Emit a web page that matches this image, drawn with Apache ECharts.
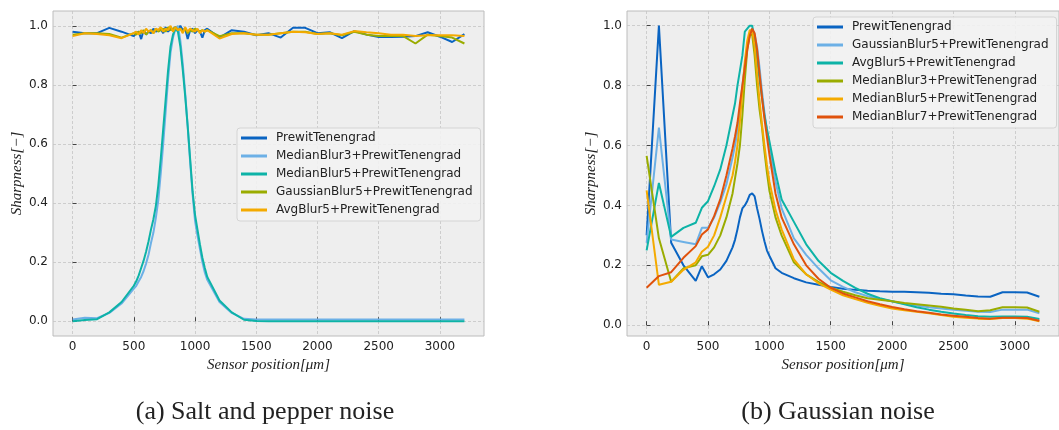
<!DOCTYPE html>
<html><head><meta charset="utf-8">
<script src="https://cdn.jsdelivr.net/npm/echarts@6/dist/echarts.min.js"></script>
<style>html,body{margin:0;padding:0;background:#fff}#c{width:1059px;height:430px}</style>
</head><body><div id="c"></div>
<script>
// ---------- tick labels ----------
const xTicks = [0, 500, 1000, 1500, 2000, 2500, 3000];
const yTicks = [0, 0.2, 0.4, 0.6, 0.8, 1.0];

// ---------- (a) Salt and pepper noise ----------
const namesA = ["PrewitTenengrad", "MedianBlur3+PrewitTenengrad", "MedianBlur5+PrewitTenengrad", "GaussianBlur5+PrewitTenengrad", "AvgBlur5+PrewitTenengrad"];
const xA = [0,100,200,300,400,500,520,540,560,580,600,620,640,660,680,700,720,740,760,780,800,820,840,860,880,900,920,940,960,980,1000,1020,1040,1060,1080,1100,1200,1300,1400,1500,1600,1700,1800,1900,2000,2100,2200,2300,2400,2500,2600,2700,2800,2900,3000,3100,3200];
const aPrewit = [0.98,0.975,0.975,0.993,0.98,
  0.965,0.975,0.98,0.955,0.985,0.97,0.98,0.975,0.99,0.98,0.985,0.99,0.975,0.995,0.98,0.99,0.985,0.995,0.99,1.0,0.985,0.99,0.955,0.985,0.99,0.975,0.985,0.98,0.96,0.985,0.99,
  0.96,0.985,0.98,0.968,0.975,0.96,0.993,0.993,0.975,0.978,0.958,0.982,0.97,0.962,0.962,0.963,0.965,0.978,0.963,0.945,0.972];
const aMedian3 = [0.006,0.012,0.01,0.028,0.06,
  0.11,0.12,0.135,0.15,0.17,0.195,0.225,0.265,0.3,0.35,0.41,0.5,0.6,0.71,0.82,0.91,0.96,0.99,1.0,0.95,0.87,0.77,0.66,0.54,0.43,0.34,0.29,0.245,0.2,0.165,0.14,
  0.065,0.028,0.008,0.006,0.006,0.006,0.006,0.006,0.006,0.006,0.006,0.006,0.006,0.006,0.006,0.006,0.006,0.006,0.006,0.006,0.006];
const aMedian5 = [0.0,0.004,0.007,0.03,0.065,
  0.12,0.135,0.155,0.18,0.205,0.235,0.27,0.31,0.345,0.39,0.46,0.55,0.65,0.75,0.85,0.93,0.97,0.99,0.98,0.93,0.85,0.76,0.66,0.55,0.44,0.36,0.31,0.26,0.215,0.18,0.15,
  0.07,0.03,0.005,0.001,0,0,0,0,0,0,0,0,0,0,0,0,0,0,0,0,0];
const aGauss5 = [0.97,0.975,0.975,0.972,0.96,
  0.975,0.97,0.98,0.975,0.985,0.97,0.98,0.985,0.975,0.99,0.98,0.985,0.99,0.98,0.995,0.985,0.99,0.995,0.985,0.99,0.98,0.99,0.975,0.985,0.98,0.99,0.985,0.98,0.985,0.98,0.985,
  0.965,0.975,0.975,0.97,0.97,0.975,0.98,0.98,0.972,0.975,0.968,0.98,0.97,0.965,0.965,0.965,0.94,0.97,0.965,0.96,0.94];
const aAvg5 = [0.965,0.975,0.972,0.968,0.958,
  0.975,0.98,0.97,0.985,0.975,0.99,0.98,0.985,0.975,0.99,0.985,0.995,0.98,0.99,0.985,1.0,0.98,0.995,0.985,0.99,0.975,0.995,0.98,0.99,0.985,0.98,0.99,0.975,0.985,0.98,0.985,
  0.957,0.972,0.975,0.97,0.97,0.975,0.98,0.978,0.972,0.975,0.97,0.982,0.978,0.975,0.97,0.97,0.965,0.968,0.968,0.968,0.965];
const seriesA = [aPrewit, aMedian3, aMedian5, aGauss5, aAvg5];

// ---------- (b) Gaussian noise ----------
const namesB = ["PrewitTenengrad", "GaussianBlur5+PrewitTenengrad", "AvgBlur5+PrewitTenengrad", "MedianBlur3+PrewitTenengrad", "MedianBlur5+PrewitTenengrad", "MedianBlur7+PrewitTenengrad"];
const xB = [0,100,200,300,400,450,500,550,600,650,700,720,740,760,780,800,820,840,860,880,900,920,940,960,980,1000,1050,1100,1200,1300,1400,1500,1600,1700,1800,1900,2000,2100,2200,2300,2400,2500,2600,2700,2800,2900,3000,3100,3200];
const bPrewit = [0.30,1.0,0.275,0.2,0.148,
  0.197,0.16,0.17,0.186,0.215,0.26,
  0.285,0.32,0.36,0.39,0.40,0.415,0.435,0.44,0.43,0.39,0.355,0.315,0.28,0.25,0.232,
  0.19,0.175,
  0.157,0.143,0.135,0.128,0.122,0.118,0.115,0.113,0.112,0.112,0.11,0.108,0.105,0.103,0.099,0.096,0.095,0.11,0.11,0.109,0.095];
const bGauss5 = [0.275,0.66,0.286,0.278,0.27,
  0.325,0.325,0.36,0.41,0.47,0.56,
  0.6,0.65,0.72,0.8,0.87,0.93,0.97,0.99,0.97,0.93,0.86,0.78,0.71,0.65,0.59,
  0.48,0.39,
  0.29,0.235,0.19,0.15,0.128,0.11,0.097,0.088,0.08,0.072,0.066,0.06,0.056,0.052,0.048,0.045,0.044,0.052,0.052,0.052,0.04];
const bAvg5 = [0.25,0.475,0.295,0.325,0.342,
  0.392,0.414,0.464,0.52,0.6,0.7,
  0.74,0.8,0.85,0.9,0.98,0.99,1.0,1.0,0.95,0.89,0.82,0.76,0.7,0.655,0.615,
  0.51,0.42,
  0.345,0.27,0.215,0.175,0.148,0.125,0.105,0.09,0.08,0.07,0.06,0.052,0.045,0.039,0.034,0.03,0.028,0.029,0.029,0.028,0.021];
const bMedian3 = [0.565,0.29,0.145,0.19,0.2,
  0.23,0.235,0.26,0.3,0.36,0.44,
  0.49,0.54,0.6,0.7,0.82,0.92,0.97,0.97,0.9,0.8,0.72,0.66,0.58,0.51,0.45,
  0.36,0.3,
  0.21,0.17,0.145,0.125,0.112,0.1,0.09,0.085,0.08,0.074,0.07,0.066,0.062,0.056,0.052,0.047,0.05,0.06,0.06,0.059,0.045];
const bMedian5 = [0.45,0.135,0.145,0.185,0.21,
  0.245,0.262,0.3,0.36,0.43,0.5,
  0.545,0.6,0.68,0.78,0.88,0.95,0.985,0.985,0.93,0.84,0.75,0.67,0.6,0.535,0.48,
  0.385,0.32,
  0.22,0.17,0.14,0.119,0.1,0.087,0.075,0.065,0.056,0.05,0.045,0.04,0.034,0.028,0.025,0.022,0.021,0.024,0.024,0.022,0.013];
const bMedian7 = [0.125,0.164,0.177,0.225,0.264,
  0.303,0.32,0.364,0.42,0.5,0.59,
  0.63,0.675,0.74,0.8,0.86,0.92,0.965,0.99,0.975,0.92,0.84,0.76,0.69,0.63,0.57,
  0.44,0.36,
  0.27,0.2,0.155,0.125,0.106,0.093,0.08,0.07,0.061,0.053,0.047,0.042,0.036,0.032,0.028,0.024,0.022,0.025,0.025,0.024,0.015];
const seriesB = [bPrewit, bGauss5, bAvg5, bMedian3, bMedian5, bMedian7];

const colors = ["#0a64c2", "#6cb0e6", "#0db3a7", "#9aac00", "#f4aa00", "#e0520c"];

// ---------- options ----------
const tickFont = {fontFamily: "DejaVu Sans", fontSize: 12, color: "#222"};
const nameFont = {fontFamily: "Liberation Serif", fontStyle: "italic", fontSize: 15, color: "#222"};
function xAx(gi) {
  return {type: "value", gridIndex: gi, min: -160, max: 3360,
    name: "Sensor position[\u03bcm]", nameLocation: "middle", nameGap: 20, nameTextStyle: nameFont,
    axisLine: {show: false},
    axisTick: {show: true, inside: true, length: 4, customValues: xTicks, lineStyle: {color: "#444", width: 1}},
    axisLabel: Object.assign({customValues: xTicks, margin: 5, formatter: v => String(v)}, tickFont),
    splitLine: {show: true, lineStyle: {color: "#c4c4c4", type: [3, 2], width: 0.8}}};
}
function yAx(gi, mn, mx) {
  return {type: "value", gridIndex: gi, min: mn, max: mx,
    name: "Sharpness[\u2212]", nameLocation: "middle", nameGap: 28, nameTextStyle: nameFont,
    axisLine: {show: false},
    axisTick: {show: true, inside: true, length: 4, customValues: yTicks, lineStyle: {color: "#444", width: 1}},
    axisLabel: Object.assign({customValues: yTicks, margin: 5, formatter: v => v.toFixed(1)}, tickFont),
    splitLine: {show: true, lineStyle: {color: "#c4c4c4", type: [3, 2], width: 0.8}}};
}
const series = [];
namesA.forEach((n, i) => series.push({name: "a:" + n, type: "line", xAxisIndex: 0, yAxisIndex: 0,
  data: xA.map((x, k) => [x, seriesA[i][k]]), showSymbol: false, symbol: "none",
  color: colors[i], lineStyle: {width: 2, color: colors[i]}}));
namesB.forEach((n, i) => series.push({name: "b:" + n, type: "line", xAxisIndex: 1, yAxisIndex: 1,
  data: xB.map((x, k) => [x, seriesB[i][k]]), showSymbol: false, symbol: "none",
  color: colors[i], lineStyle: {width: 2, color: colors[i]}}));

const legendBase = {orient: "vertical", icon: "rect", itemWidth: 26, itemHeight: 3, itemGap: 4,
  backgroundColor: "rgba(242,242,242,0.9)", borderColor: "#d4d4d4", borderWidth: 1, borderRadius: 3,
  formatter: n => n.slice(2),
  textStyle: {fontFamily: "DejaVu Sans", fontSize: 12, color: "#222", lineHeight: 14, padding: [0, 0, 0, 4]}};

const option = {
  animation: false,
  grid: [
    {left: 53, top: 11, width: 431, height: 325, show: true, backgroundColor: "#eeeeee", borderColor: "#bcbcbc", borderWidth: 1},
    {left: 627, top: 11, width: 437, height: 325, show: true, backgroundColor: "#eeeeee", borderColor: "#bcbcbc", borderWidth: 1}
  ],
  xAxis: [xAx(0), xAx(1)],
  yAxis: [yAx(0, -0.05, 1.05), yAx(1, -0.036, 1.049)],
  legend: [
    Object.assign({}, legendBase, {left: 237, top: 128, padding: [3, 8, 4, 4], data: namesA.map(n => "a:" + n)}),
    Object.assign({}, legendBase, {left: 813, top: 17, padding: [3, 8, 4, 4], data: namesB.map(n => "b:" + n)})
  ],
  graphic: [
    {type: "text", x: 265, y: 412, style: {text: "(a) Salt and pepper noise", textAlign: "center", textVerticalAlign: "middle", font: "26px 'Liberation Serif'", fill: "#222"}},
    {type: "text", x: 838, y: 412, style: {text: "(b) Gaussian noise", textAlign: "center", textVerticalAlign: "middle", font: "26px 'Liberation Serif'", fill: "#222"}}
  ],
  series: series
};
const chart = echarts.init(document.getElementById("c"), null, {renderer: "canvas"});
chart.setOption(option);
</script></body></html>
